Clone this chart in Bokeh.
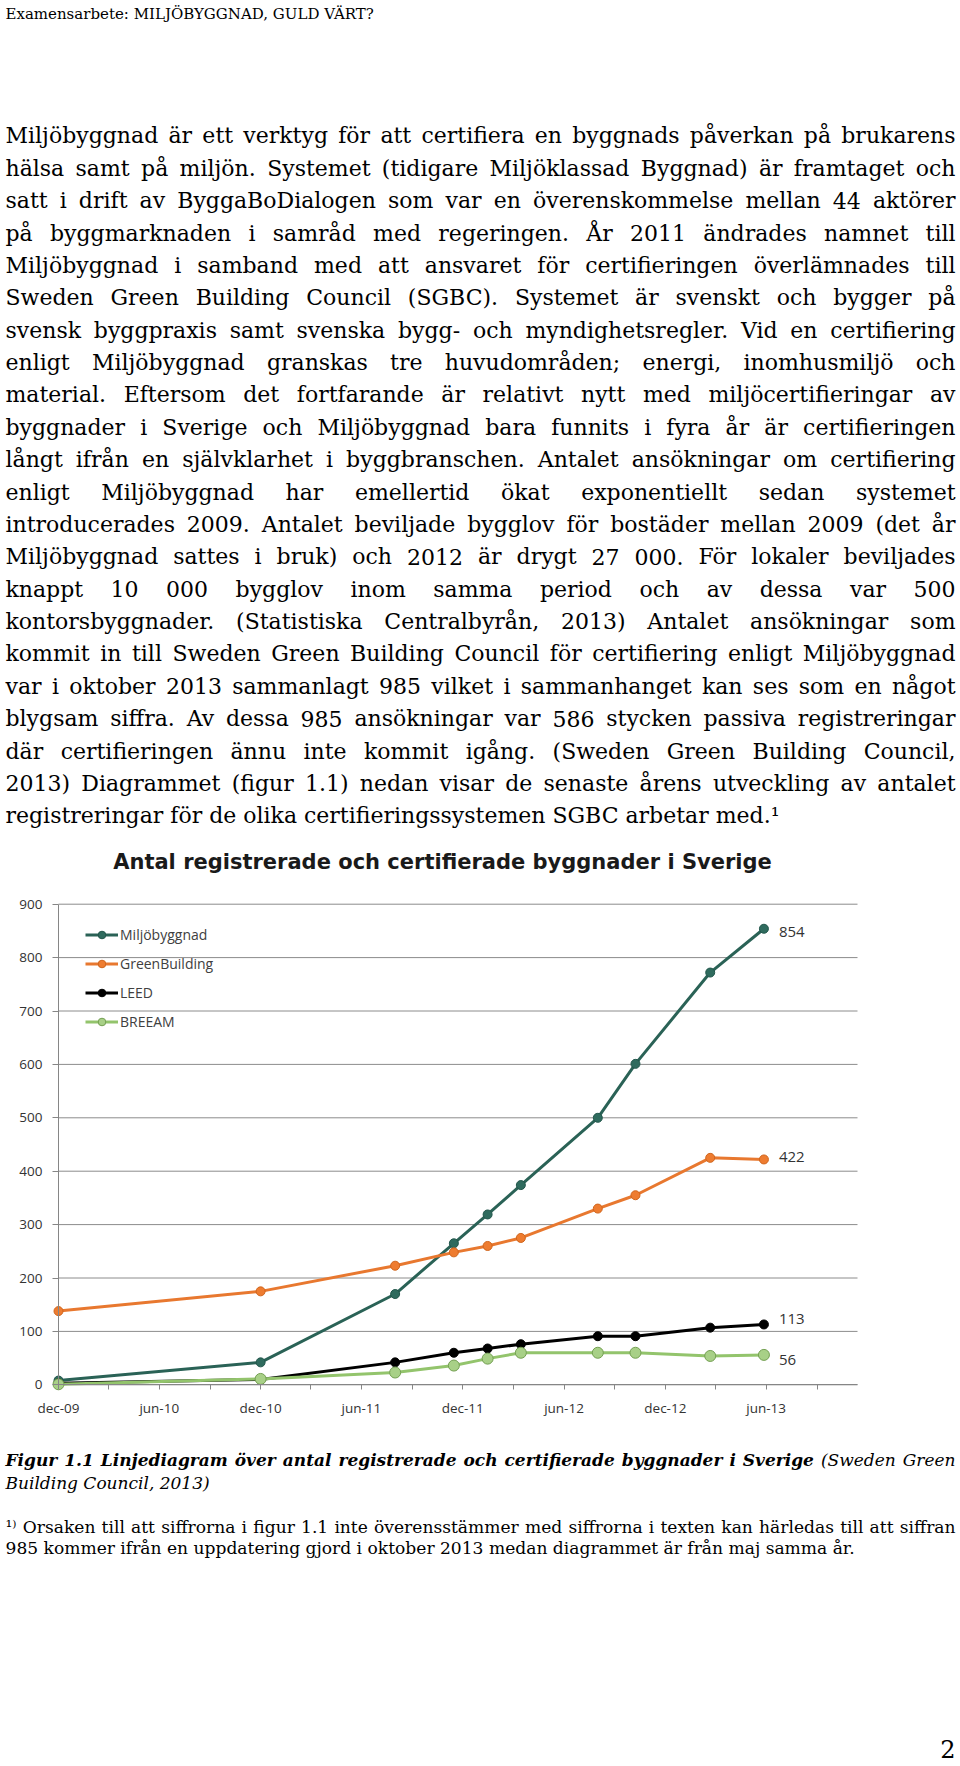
import pandas as pd
from bokeh.plotting import figure
from bokeh.models import (ColumnDataSource, Range1d, FixedTicker, Legend, LegendItem,
                          CustomJSTransform, LinearAxis, DatetimeAxis)
from bokeh.transform import transform
from bokeh.core.properties import value, field
from bokeh.embed import file_html
from bokeh.resources import INLINE

# ---------------- chart data ----------------
dates = ["2009-12-01", "2010-12-01", "2011-08-01", "2011-11-15", "2012-01-15",
         "2012-03-15", "2012-08-01", "2012-10-08", "2013-02-20", "2013-05-28"]
miljobyggnad = [8, 42, 170, 265, 319, 374, 500, 601, 772, 854]
greenbuilding = [138, 175, 223, 248, 260, 275, 330, 355, 425, 422]
leed = [3, 10, 42, 60, 68, 76, 91, 91, 107, 113]
breeam = [1, 11, 23, 36, 49, 60, 60, 60, 54, 56]
series_names = ["Miljöbyggnad", "GreenBuilding", "LEED", "BREEAM"]
y_ticks = [0, 100, 200, 300, 400, 500, 600, 700, 800, 900]
x_tick_dates = ["2009-12-01", "2010-06-01", "2010-12-01", "2011-06-01",
                "2011-12-01", "2012-06-01", "2012-12-01", "2013-06-01"]
x_tick_labels = ["dec-09", "jun-10", "dec-10", "jun-11", "dec-11", "jun-12", "dec-12", "jun-13"]
x_minor_dates = ["2010-03-01", "2010-09-01", "2011-03-01", "2011-09-01",
                 "2012-03-01", "2012-09-01", "2013-03-01", "2013-09-01"]
x_limits = ["2009-12-01", "2013-11-13"]
y_limits = [0, 900]
chart_title = "Antal registrerade och certifierade byggnader i Sverige"

# ---------------- page texts ----------------
header = "Examensarbete: MILJÖBYGGNAD, GULD VÄRT?"
body_lines = [
    "Miljöbyggnad är ett verktyg för att certifiera en byggnads påverkan på brukarens",
    "hälsa samt på miljön. Systemet (tidigare Miljöklassad Byggnad) är framtaget och",
    "satt i drift av ByggaBoDialogen som var en överenskommelse mellan 44 aktörer",
    "på byggmarknaden i samråd med regeringen. År 2011 ändrades namnet till",
    "Miljöbyggnad i samband med att ansvaret för certifieringen överlämnades till",
    "Sweden Green Building Council (SGBC). Systemet är svenskt och bygger på",
    "svensk byggpraxis samt svenska bygg- och myndighetsregler. Vid en certifiering",
    "enligt Miljöbyggnad granskas tre huvudområden; energi, inomhusmiljö och",
    "material. Eftersom det fortfarande är relativt nytt med miljöcertifieringar av",
    "byggnader i Sverige och Miljöbyggnad bara funnits i fyra år är certifieringen",
    "långt ifrån en självklarhet i byggbranschen. Antalet ansökningar om certifiering",
    "enligt Miljöbyggnad har emellertid ökat exponentiellt sedan systemet",
    "introducerades 2009. Antalet beviljade bygglov för bostäder mellan 2009 (det år",
    "Miljöbyggnad sattes i bruk) och 2012 är drygt 27 000. För lokaler beviljades",
    "knappt 10 000 bygglov inom samma period och av dessa var 500",
    "kontorsbyggnader. (Statistiska Centralbyrån, 2013) Antalet ansökningar som",
    "kommit in till Sweden Green Building Council för certifiering enligt Miljöbyggnad",
    "var i oktober 2013 sammanlagt 985 vilket i sammanhanget kan ses som en något",
    "blygsam siffra. Av dessa 985 ansökningar var 586 stycken passiva registreringar",
    "där certifieringen ännu inte kommit igång. (Sweden Green Building Council,",
    "2013) Diagrammet (figur 1.1) nedan visar de senaste årens utveckling av antalet",
    "registreringar för de olika certifieringssystemen SGBC arbetar med.¹",
]
caption_bold = "Figur 1.1 Linjediagram över antal registrerade och certifierade byggnader i Sverige"
caption_rest_1 = "(Sweden Green"
caption_rest_2 = "Building Council, 2013)"
footnote_lines = [
    "¹⁾ Orsaken till att siffrorna i figur 1.1 inte överensstämmer med siffrorna i texten kan härledas till att siffran",
    "985 kommer ifrån en uppdatering gjord i oktober 2013 medan diagrammet är från maj samma år.",
]
page_number = "2"

SERIF = "DejaVu Serif"
SANS = "Open Sans"
W, H = 960, 1762
TEXT_LEFT, TEXT_W = 5, 950
K = 0.36  # baseline correction (fraction of font size) for the rendered text box
# chart plot-area box on the page (pixels from the top-left)
CH_LEFT, CH_RIGHT, CH_TOP, CH_BOT = 58, 857, 903.7, 1384.3

JS = """
const d = src.data;
const n = xs.length;
const out = new Float64Array(n);
try {
  const ctx = document.createElement('canvas').getContext('2d');
  const groups = new Map();
  for (let i = 0; i < n; i++) {
    const L = d.line[i];
    if (!groups.has(L)) groups.set(L, []);
    groups.get(L).push(i);
  }
  for (const idx of groups.values()) {
    const ws = [];
    let tot = 0;
    for (const i of idx) {
      ctx.font = d.style[i] + ' ' + d.size[i] + ' "' + fam + '"';
      const w = ctx.measureText(d.text[i]).width;
      ws.push(w); tot += w;
    }
    const i0 = idx[0];
    ctx.font = d.style[i0] + ' ' + d.size[i0] + ' "' + fam + '"';
    let gap = ctx.measureText(' ').width;
    if (d.justify[i0] && idx.length > 1) gap = (d.width[i0] - tot) / (idx.length - 1);
    let x = d.left[i0];
    for (let k = 0; k < idx.length; k++) { out[idx[k]] = x; x += ws[k] + gap; }
  }
  return out;
} catch (e) { return xs; }
"""

rows = dict(x=[], y=[], text=[], line=[], left=[], width=[], justify=[], size=[], style=[])


def add_line(words, baseline, justify, size, left=TEXT_LEFT, width=TEXT_W):
    lid = (max(rows["line"]) + 1) if rows["line"] else 0
    x = left
    for w, st in words:
        rows["x"].append(x)
        rows["y"].append(baseline - K * size)
        rows["text"].append(w)
        rows["line"].append(lid)
        rows["left"].append(left)
        rows["width"].append(width)
        rows["justify"].append(1 if justify else 0)
        rows["size"].append(f"{size}px")
        rows["style"].append(st)
        x += 0.55 * size * (len(w) + 1)


# header + body
add_line([(w, "normal") for w in header.split()], 19, False, 15)
BODY_SIZE = 22
for i, s in enumerate(body_lines):
    add_line([(w, "normal") for w in s.split()], 143.3 + i * 32.38,
             i < len(body_lines) - 1, BODY_SIZE)
# caption + footnote
cap1 = [(w, "bold italic") for w in caption_bold.split()] + [(w, "italic") for w in caption_rest_1.split()]
add_line(cap1, 1465.5, True, 17)
add_line([(w, "italic") for w in caption_rest_2.split()], 1488.5, False, 17)
add_line([(w, "normal") for w in footnote_lines[0].split()], 1532.3, True, 17.1)
add_line([(w, "normal") for w in footnote_lines[1].split()], 1553.3, False, 17.1)

# ---------------- page figure ----------------
def ms(lst):
    return [float(v) for v in (pd.to_datetime(lst).astype("int64") // 10**6)]

xt = ms(x_tick_dates)
xm = ms(x_minor_dates)
xl = ms(x_limits)
dx = (xl[1] - xl[0]) / (CH_RIGHT - CH_LEFT)
dy = (y_limits[1] - y_limits[0]) / (CH_BOT - CH_TOP)
date_range = Range1d(xl[0] - CH_LEFT * dx, xl[1] + (W - CH_RIGHT) * dx)
val_range = Range1d(y_limits[0] - (H - CH_BOT) * dy, y_limits[1] + CH_TOP * dy)

p = figure(width=W, height=H, x_range=Range1d(0, W), y_range=Range1d(H, 0),
           x_axis_type=None, y_axis_type=None, output_backend="svg",
           toolbar_location=None, title=None, min_border=0)
p.min_border_left = p.min_border_right = p.min_border_top = p.min_border_bottom = 0
p.grid.visible = False
p.outline_line_color = None
p.background_fill_color = "white"
p.border_fill_color = "white"
p.extra_x_ranges = {"date": date_range}
p.extra_y_ranges = {"val": val_range}

# page text
tsrc = ColumnDataSource(rows)
tr = CustomJSTransform(args=dict(src=tsrc, fam=SERIF), v_func=JS)
p.text(x=transform("x", tr), y="y", text="text", source=tsrc,
       text_font=value(SERIF), text_font_size=field("size"),
       text_font_style=field("style"), text_color="#000000",
       text_align="left", text_baseline="alphabetic", text_line_height=1.0)
p.text(x=[955], y=[1748], text=[page_number], text_font=value(SERIF), text_font_size="24px",
       text_color="#000000", text_align="right", text_baseline="alphabetic",
       text_line_height=1.0)
p.text(x=[442], y=[869 - K * 21], text=[chart_title], text_font=value("DejaVu Sans"),
       text_font_size="21px", text_font_style="bold", text_color="#1a1a1a",
       text_align="center", text_baseline="alphabetic", text_line_height=1.0)

# chart: gridlines
AX = "#868686"
p.segment(x0=[xl[0]] * len(y_ticks), x1=[xl[1]] * len(y_ticks), y0=y_ticks, y1=y_ticks,
          x_range_name="date", y_range_name="val", line_color="#8c8c8c", line_width=1)

# chart: axes fixed inside the page
yax = LinearAxis(x_range_name="date", y_range_name="val", fixed_location=xl[0],
                 bounds=(y_limits[0], y_limits[1]), ticker=FixedTicker(ticks=y_ticks))
yax.axis_line_color = AX
yax.major_tick_line_color = AX
yax.major_tick_out = 6
yax.major_tick_in = 0
yax.minor_tick_line_color = None
yax.major_label_standoff = 10
p.add_layout(yax, "left")

xax = DatetimeAxis(x_range_name="date", y_range_name="val", fixed_location=y_limits[0],
                   bounds=(xl[0], xl[1]), ticker=FixedTicker(ticks=xt, minor_ticks=xm))
xax.major_label_overrides = {t: lab for t, lab in zip(xt, x_tick_labels)}
xax.axis_line_color = AX
xax.major_tick_line_color = AX
xax.minor_tick_line_color = AX
xax.major_tick_out = 5
xax.major_tick_in = 0
xax.minor_tick_out = 5
xax.minor_tick_in = 0
xax.major_label_standoff = 9
p.add_layout(xax, "below")

for ax in (xax, yax):
    ax.major_label_text_font = SANS
    ax.major_label_text_font_size = "13.5px"
    ax.major_label_text_color = "#333333"

# chart: series
src = ColumnDataSource(dict(date=pd.to_datetime(dates), milj=miljobyggnad,
                            green=greenbuilding, leed=leed, breeam=breeam))
styles = [
    ("milj", "#2A6256", "#2F6B5E", "#22564B", 3, 9),
    ("green", "#E8782F", "#EE7C30", "#D0651C", 3, 9),
    ("leed", "#000000", "#000000", "#000000", 3, 9),
    ("breeam", "#93C46C", "#A8D087", "#74A052", 3, 11),
]
label_offsets = {"milj": 3, "green": -2, "leed": -5, "breeam": 5}
series_values = {"milj": miljobyggnad, "green": greenbuilding, "leed": leed, "breeam": breeam}
dates_ts = pd.to_datetime(dates)

items = []
for name, (key, lc, mf, ml, lw, msz) in zip(series_names, styles):
    lr = p.line(x="date", y=key, source=src, line_color=lc, line_width=lw,
                x_range_name="date", y_range_name="val")
    sr = p.scatter(x="date", y=key, source=src, marker="circle", size=msz,
                   fill_color=mf, line_color=ml, line_width=1,
                   x_range_name="date", y_range_name="val")
    items.append(LegendItem(label=name, renderers=[lr, sr]))
    vals = series_values[key]
    p.text(x=[dates_ts[-1]], y=[vals[-1]], text=[str(vals[-1])], x_offset=15,
           y_offset=label_offsets[key], text_font=value(SANS), text_font_size="15px",
           text_color="#333333", text_align="left", text_baseline="middle",
           x_range_name="date", y_range_name="val")

legend = Legend(items=items, location=(85, H - 1030.5), glyph_width=33, glyph_height=19,
                label_height=19, spacing=10, padding=0, margin=0, label_standoff=2,
                background_fill_alpha=0, border_line_alpha=0,
                label_text_font=SANS, label_text_font_size="14px",
                label_text_color="#404040")
p.add_layout(legend)

open("out.html", "w").write(file_html(p, INLINE))
